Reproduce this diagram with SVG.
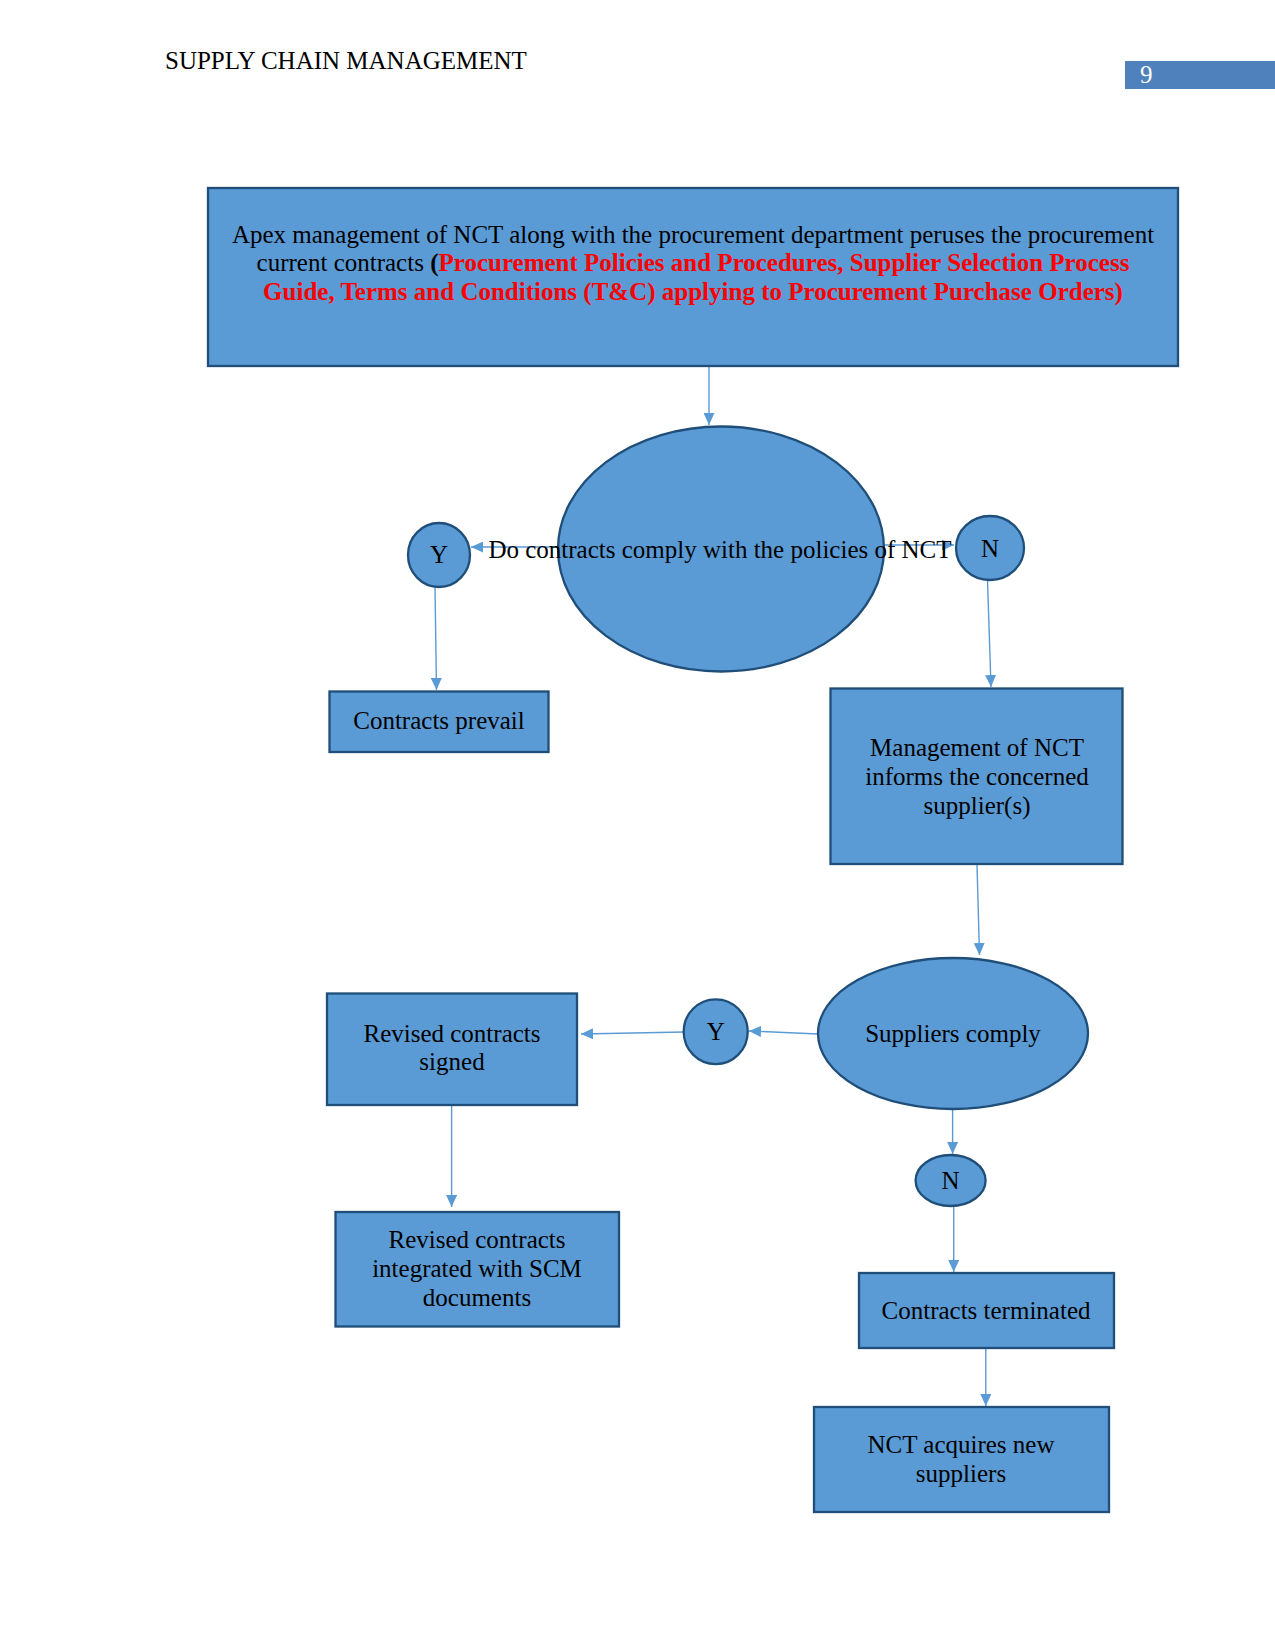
<svg xmlns="http://www.w3.org/2000/svg" width="1275" height="1650" viewBox="0 0 1275 1650">
<style>
.node{fill:#5B9BD5;stroke:#1F4E79;stroke-width:2.3}
.t{font-family:"Liberation Serif","Times New Roman",serif;font-size:25px;fill:#000;text-anchor:middle}
.red{fill:#FF0000;font-weight:bold}
.conn{stroke:#5B9BD5;stroke-width:1.4;fill:none;marker-end:url(#ah)}
</style>
<defs>
<marker id="ah" markerUnits="userSpaceOnUse" markerWidth="13" markerHeight="11" refX="12" refY="5.5" orient="auto">
<path d="M0,0 L12,5.5 L0,11 Z" fill="#5B9BD5"/>
</marker>
</defs>
<rect width="1275" height="1650" fill="#fff"/>
<g id="header">
<text x="165" y="69" style="font-family:'Liberation Serif','Times New Roman',serif;font-size:25px;fill:#000">SUPPLY CHAIN MANAGEMENT</text>
<rect x="1125" y="61" width="150" height="28" fill="#4F81BD"/>
<text x="1140" y="83" style="font-family:'Liberation Serif','Times New Roman',serif;font-size:25px;fill:#fff">9</text>
</g>
<g id="connectors">
<line class="conn" x1="709" y1="366" x2="709" y2="425"/>
<line class="conn" x1="558" y1="547" x2="471" y2="547"/>
<line class="conn" x1="884" y1="545" x2="954" y2="545"/>
<line class="conn" x1="435" y1="587" x2="436.5" y2="690"/>
<line class="conn" x1="987.5" y1="580" x2="991" y2="687"/>
<line class="conn" x1="977" y1="865" x2="979.5" y2="955"/>
<line class="conn" x1="818" y1="1034" x2="749" y2="1031"/>
<line class="conn" x1="684" y1="1032" x2="581" y2="1034"/>
<line class="conn" x1="451.6" y1="1105" x2="451.6" y2="1207"/>
<line class="conn" x1="952.6" y1="1109" x2="952.6" y2="1154"/>
<line class="conn" x1="953.7" y1="1206" x2="953.7" y2="1272"/>
<line class="conn" x1="985.8" y1="1348" x2="985.8" y2="1406"/>
</g>
<g id="apex">
<rect class="node" x="208" y="188" width="970" height="178"/>
<text class="t" x="693" y="243">Apex management of NCT along with the procurement department peruses the procurement</text>
<text class="t" x="693" y="271">current contracts <tspan font-weight="bold">(</tspan><tspan class="red">Procurement Policies and Procedures, Supplier Selection Process</tspan></text>
<text class="t red" x="693" y="300">Guide, Terms and Conditions (T&amp;C) applying to Procurement Purchase Orders)</text>
</g>
<g id="decision1">
<ellipse class="node" cx="721" cy="549" rx="163" ry="122.5"/>
</g>
<g id="y1">
<ellipse class="node" cx="439" cy="555" rx="31" ry="32"/>
<text class="t" x="439" y="563">Y</text>
</g>
<g id="n1">
<ellipse class="node" cx="990" cy="548" rx="34" ry="32"/>
<text class="t" x="990" y="557">N</text>
</g>
<text class="t" x="720" y="558">Do contracts comply with the policies of NCT</text>
<g id="prevail">
<rect class="node" x="329.5" y="691.5" width="219" height="60.5"/>
<text class="t" x="439" y="729">Contracts prevail</text>
</g>
<g id="inform">
<rect class="node" x="830.5" y="688.5" width="292" height="175.5"/>
<text class="t" x="977" y="756">Management of NCT</text>
<text class="t" x="977" y="785">informs the concerned</text>
<text class="t" x="977" y="814">supplier(s)</text>
</g>
<g id="suppliers">
<ellipse class="node" cx="953" cy="1033.5" rx="135" ry="75.5"/>
<text class="t" x="953" y="1042">Suppliers comply</text>
</g>
<g id="y2">
<ellipse class="node" cx="715.7" cy="1031.7" rx="32" ry="32.4"/>
<text class="t" x="715.7" y="1040">Y</text>
</g>
<g id="signed">
<rect class="node" x="327" y="993.5" width="250" height="111.5"/>
<text class="t" x="452" y="1042">Revised contracts</text>
<text class="t" x="452" y="1070">signed</text>
</g>
<g id="integrated">
<rect class="node" x="335.5" y="1212" width="283.5" height="114.5"/>
<text class="t" x="477" y="1248">Revised contracts</text>
<text class="t" x="477" y="1277">integrated with SCM</text>
<text class="t" x="477" y="1306">documents</text>
</g>
<g id="n2">
<ellipse class="node" cx="950.6" cy="1180.5" rx="35" ry="25.5"/>
<text class="t" x="950.6" y="1189">N</text>
</g>
<g id="terminated">
<rect class="node" x="859" y="1273" width="255" height="75"/>
<text class="t" x="986" y="1319">Contracts terminated</text>
</g>
<g id="acquire">
<rect class="node" x="814" y="1407" width="295" height="105"/>
<text class="t" x="961" y="1453">NCT acquires new</text>
<text class="t" x="961" y="1482">suppliers</text>
</g>
</svg>
